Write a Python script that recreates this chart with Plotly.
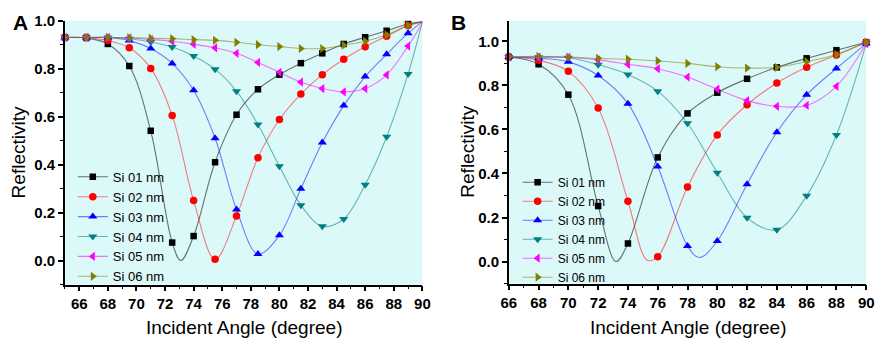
import plotly.graph_objects as go

# ---------------- data ----------------
series_names = ["Si 01 nm", "Si 02 nm", "Si 03 nm", "Si 04 nm", "Si 05 nm", "Si 06 nm"]

# Panel A: incident angle (degree) of the plotted markers
angle_A = [65, 66.5, 68, 69.5, 71, 72.5, 74, 75.5, 77, 78.5, 80, 81.5, 83, 84.5, 86, 87.5, 89]
A_si01 = [0.930, 0.928, 0.903, 0.811, 0.541, 0.075, 0.102, 0.410, 0.608, 0.714, 0.775, 0.823, 0.864, 0.903, 0.931, 0.958, 0.986]
A_si02 = [0.930, 0.930, 0.917, 0.887, 0.801, 0.605, 0.250, 0.005, 0.186, 0.429, 0.588, 0.694, 0.775, 0.839, 0.891, 0.935, 0.980]
A_si03 = [0.930, 0.930, 0.930, 0.917, 0.884, 0.822, 0.710, 0.510, 0.213, 0.027, 0.105, 0.299, 0.492, 0.646, 0.767, 0.860, 0.948]
A_si04 = [0.930, 0.930, 0.930, 0.925, 0.911, 0.890, 0.853, 0.798, 0.706, 0.567, 0.393, 0.231, 0.143, 0.173, 0.316, 0.516, 0.778]
A_si05 = [0.930, 0.930, 0.930, 0.928, 0.922, 0.914, 0.902, 0.887, 0.864, 0.826, 0.785, 0.744, 0.717, 0.703, 0.717, 0.774, 0.894]
A_si06 = [0.930, 0.930, 0.930, 0.929, 0.927, 0.925, 0.921, 0.918, 0.910, 0.900, 0.892, 0.884, 0.884, 0.898, 0.914, 0.941, 0.980]
# curve-only points of panel A (no marker drawn there)
A_curve_end_angle = 90
A_curve_end = [0.995, 0.995, 0.995, 0.995, 0.990, 0.995]
A_dip_angle = [73.1, None, None, None, None, None]
A_dip_value = [0.0, None, None, None, None, None]

# Panel B
angle_B = [66, 68, 70, 72, 74, 76, 78, 80, 82, 84, 86, 88, 90]
B_si01 = [0.929, 0.896, 0.758, 0.252, 0.082, 0.473, 0.673, 0.767, 0.830, 0.882, 0.923, 0.960, 0.996]
B_si02 = [0.929, 0.914, 0.864, 0.697, 0.274, 0.022, 0.339, 0.575, 0.712, 0.811, 0.882, 0.938, 0.996]
B_si03 = [0.929, 0.923, 0.907, 0.845, 0.717, 0.432, 0.071, 0.093, 0.351, 0.587, 0.757, 0.877, 0.990]
B_si04 = [0.929, 0.928, 0.926, 0.894, 0.850, 0.774, 0.628, 0.403, 0.199, 0.144, 0.299, 0.575, 0.990]
B_si05 = [0.929, 0.929, 0.928, 0.916, 0.896, 0.876, 0.838, 0.783, 0.731, 0.705, 0.709, 0.796, 0.990]
B_si06 = [0.929, 0.932, 0.929, 0.923, 0.919, 0.911, 0.900, 0.885, 0.879, 0.882, 0.908, 0.940, 0.996]
# curve-only points of panel B (minima of the fitted curves)
B_dip_angle = [73.2, 75.3, 78.8, None, None, None]
B_dip_value = [0.0, 0.006, 0.018, None, None, None]

x_ticks = [66, 68, 70, 72, 74, 76, 78, 80, 82, 84, 86, 88, 90]
y_ticks = [0.0, 0.2, 0.4, 0.6, 0.8, 1.0]

# ---------------- style ----------------
marker_colors = ["#000000", "#FF0000", "#0000FF", "#008080", "#FF00FF", "#808000"]
line_colors = ["rgba(0,0,0,0.55)", "rgba(255,0,0,0.5)", "rgba(0,0,255,0.5)",
               "rgba(0,128,128,0.55)", "rgba(255,0,255,0.55)", "rgba(128,128,0,0.55)"]
symbols = ["square", "circle", "triangle-up", "triangle-down", "triangle-left", "triangle-right"]
msizes = [6.5, 7.5, 8, 8, 8, 8]
FONT = "Liberation Sans, Arial, sans-serif"
BG = "#DCF9F9"

W, H = 886, 341
def px_x(p):
    return p / W
def px_y(p):
    return 1 - p / H

fig = go.Figure()

def curve_points(xs, ys, extra):
    pts = list(zip(xs, ys)) + [e for e in extra if e[0] is not None]
    pts.sort(key=lambda t: t[0])
    return [p[0] for p in pts], [p[1] for p in pts]

A_vals = [A_si01, A_si02, A_si03, A_si04, A_si05, A_si06]
B_vals = [B_si01, B_si02, B_si03, B_si04, B_si05, B_si06]

for panel, (angles, vals, xa, ya, leg) in enumerate([
        (angle_A, A_vals, "x", "y", "legend"),
        (angle_B, B_vals, "x2", "y2", "legend2")]):
    for i, name in enumerate(series_names):
        if panel == 0:
            extra = [(A_curve_end_angle, A_curve_end[i]), (A_dip_angle[i], A_dip_value[i])]
        else:
            extra = [(B_dip_angle[i], B_dip_value[i])]
        cx, cy = curve_points(angles, vals[i], extra)
        fig.add_trace(go.Scatter(x=cx, y=cy, mode="lines", xaxis=xa, yaxis=ya,
                                 line=dict(color=line_colors[i], width=1.1, shape="spline", smoothing=1.0),
                                 showlegend=False, hoverinfo="skip"))
    for i, name in enumerate(series_names):
        fig.add_trace(go.Scatter(x=angles, y=vals[i], mode="markers", xaxis=xa, yaxis=ya,
                                 marker=dict(symbol=symbols[i], size=msizes[i], color=marker_colors[i],
                                             line=dict(width=0)),
                                 cliponaxis=False, showlegend=False, name=name))
    for i, name in enumerate(series_names):
        fig.add_trace(go.Scatter(x=[None], y=[None], mode="lines+markers", xaxis=xa, yaxis=ya,
                                 name=name, legend=leg,
                                 line=dict(color=line_colors[i], width=1.1),
                                 marker=dict(symbol=symbols[i], size=msizes[i], color=marker_colors[i],
                                             line=dict(width=0))))

tickfont = dict(family="Liberation Sans", size=15, color="black", weight=700)

def main_x(domain, rng):
    return dict(domain=domain, range=rng, tickmode="array", tickvals=x_ticks,
                ticktext=["%d" % v for v in x_ticks],
                ticks="outside", ticklen=5, tickwidth=1.5, tickcolor="black",
                minor=dict(dtick=1, tick0=66, ticks="outside", ticklen=3, tickwidth=1.2, tickcolor="black"),
                showline=True, linewidth=1.5, linecolor="black", showgrid=False, zeroline=False,
                tickfont=tickfont, fixedrange=True)

def main_y(domain, rng):
    return dict(domain=domain, range=rng, tickmode="array", tickvals=y_ticks,
                ticktext=["%.1f" % v for v in y_ticks],
                ticks="outside", ticklen=5, tickwidth=1.5, tickcolor="black",
                minor=dict(dtick=0.1, tick0=0, ticks="outside", ticklen=3, tickwidth=1.2, tickcolor="black"),
                showline=True, linewidth=1.5, linecolor="black", showgrid=False, zeroline=False,
                tickfont=tickfont, fixedrange=True)

def mirror_x(over, anchor, rng):
    return dict(overlaying=over, anchor=anchor, side="top", range=rng, tickmode="array",
                tickvals=x_ticks, showticklabels=False,
                ticks="inside", ticklen=4, tickwidth=1.3, tickcolor="black",
                minor=dict(dtick=1, tick0=66, ticks="inside", ticklen=2.5, tickwidth=1.1, tickcolor="black"),
                showline=True, linewidth=1.5, linecolor="black", showgrid=False, zeroline=False,
                fixedrange=True)

def mirror_y(over, anchor, rng):
    return dict(overlaying=over, anchor=anchor, side="right", range=rng, tickmode="array",
                tickvals=y_ticks, showticklabels=False,
                ticks="inside", ticklen=4, tickwidth=1.3, tickcolor="black",
                minor=dict(dtick=0.1, tick0=0, ticks="inside", ticklen=2.5, tickwidth=1.1, tickcolor="black"),
                showline=True, linewidth=1.5, linecolor="black", showgrid=False, zeroline=False,
                fixedrange=True)

domA_x = [px_x(58), px_x(422)]
domB_x = [px_x(510), px_x(874)]
domA_y = [px_y(283), px_y(12)]
domB_y = [px_y(282), px_y(12)]
rngA_x, rngA_y = [65, 90], [-0.1, 1.0]
rngB_x, rngB_y = [66, 90], [-0.1, 1.094]

xa1 = main_x(domA_x, rngA_x); xa1["anchor"] = "y"
ya1 = main_y(domA_y, rngA_y); ya1["anchor"] = "x"
xa2 = main_x(domB_x, rngB_x); xa2["anchor"] = "y2"
ya2 = main_y(domB_y, rngB_y); ya2["anchor"] = "x2"

fig.update_layout(
    width=W, height=H, margin=dict(l=0, r=0, t=0, b=0),
    paper_bgcolor="white", plot_bgcolor=BG,
    font=dict(family=FONT, color="black"),
    xaxis=xa1, yaxis=ya1, xaxis2=xa2, yaxis2=ya2,
    xaxis3=mirror_x("x", "y", rngA_x), yaxis3=mirror_y("y", "x", rngA_y),
    xaxis4=mirror_x("x2", "y2", rngB_x), yaxis4=mirror_y("y2", "x2", rngB_y),
    legend=dict(x=px_x(66), y=px_y(157), xanchor="left", yanchor="top",
                bgcolor="rgba(0,0,0,0)", borderwidth=0,
                font=dict(family=FONT, size=13, color="black"), itemwidth=30),
    legend2=dict(x=px_x(519), y=px_y(163), xanchor="left", yanchor="top",
                 bgcolor="rgba(0,0,0,0)", borderwidth=0,
                 font=dict(family=FONT, size=12, color="black"), itemwidth=30),
    annotations=[
        dict(text="<b>A</b>", x=px_x(13), y=px_y(14), xref="paper", yref="paper",
             showarrow=False, font=dict(family=FONT, size=21, color="black"),
             xanchor="center", yanchor="middle"),
        dict(text="<b>B</b>", x=px_x(459), y=px_y(14), xref="paper", yref="paper",
             showarrow=False, font=dict(family=FONT, size=21, color="black"),
             xanchor="center", yanchor="middle"),
        dict(text="Incident Angle (degree)", x=px_x(240), y=px_y(327), xref="paper", yref="paper",
             showarrow=False, font=dict(family=FONT, size=19, color="black"),
             xanchor="center", yanchor="middle"),
        dict(text="Incident Angle (degree)", x=px_x(692), y=px_y(327), xref="paper", yref="paper",
             showarrow=False, font=dict(family=FONT, size=19, color="black"),
             xanchor="center", yanchor="middle"),
        dict(text="Reflectivity", x=px_x(11), y=px_y(147.5), xref="paper", yref="paper",
             showarrow=False, textangle=-90, font=dict(family=FONT, size=19, color="black"),
             xanchor="center", yanchor="middle"),
        dict(text="Reflectivity", x=px_x(468), y=px_y(147), xref="paper", yref="paper",
             showarrow=False, textangle=-90, font=dict(family=FONT, size=19, color="black"),
             xanchor="center", yanchor="middle"),
    ],
)

fig.write_html("out.html", config={"displayModeBar": False},
               post_script="document.body.style.margin='0px';document.body.style.padding='0px';")
